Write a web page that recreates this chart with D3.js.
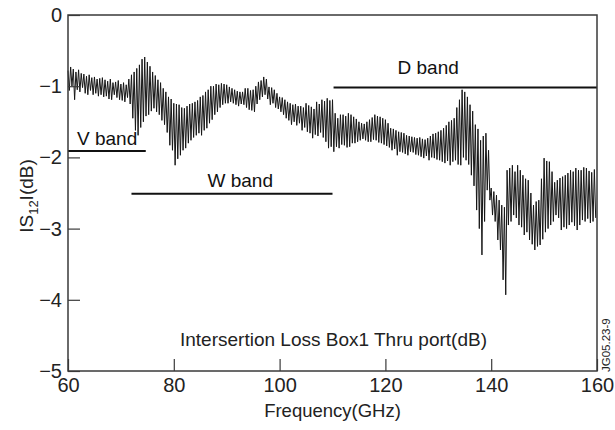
<!DOCTYPE html>
<html>
<head>
<meta charset="utf-8">
<script src="https://cdn.jsdelivr.net/npm/d3@7"></script>
<style>
  body { margin: 0; background: #fff; }
  svg { display: block; font-family: "Liberation Sans", Arial, Helvetica, sans-serif; }
</style>
</head>
<body>
<div id="chart"></div>
<script>
// |S12| insertion loss trace (4 samples per GHz)
const freqStart = 60;
const freqStep = 0.25;
const lossDb = [
  -0.78, -1.06, -0.73, -1.00,   // 60
  -0.76, -1.19, -0.80, -1.05,
  -0.77, -1.08, -0.82, -1.02,
  -0.83, -1.10, -0.86, -1.12,
  -0.84, -1.06, -0.88, -1.12,
  -0.87, -1.10, -0.90, -1.14,   // 65
  -0.89, -1.12, -0.88, -1.15,
  -0.91, -1.14, -0.93, -1.18,
  -0.90, -1.19, -0.95, -1.12,
  -0.94, -1.16, -0.92, -1.19,
  -0.97, -1.20, -0.95, -1.22,   // 70
  -0.98, -1.16, -0.90, -1.25,
  -0.84, -1.45, -0.80, -1.62,
  -0.75, -1.69, -0.70, -1.58,
  -0.62, -1.50, -0.59, -1.42,
  -0.66, -1.40, -0.72, -1.35,   // 75
  -0.80, -1.31, -0.85, -1.36,
  -0.91, -1.40, -0.95, -1.48,
  -1.03, -1.54, -1.08, -1.65,
  -1.15, -1.83, -1.18, -1.90,
  -1.24, -2.11, -1.25, -2.02,   // 80
  -1.26, -1.97, -1.30, -1.90,
  -1.31, -1.87, -1.28, -1.80,
  -1.25, -1.76, -1.24, -1.72,
  -1.22, -1.69, -1.20, -1.66,
  -1.15, -1.69, -1.13, -1.62,   // 85
  -1.08, -1.59, -1.05, -1.52,
  -1.00, -1.47, -1.00, -1.40,
  -0.97, -1.36, -0.98, -1.30,
  -0.96, -1.26, -0.97, -1.24,
  -0.98, -1.24, -1.01, -1.22,   // 90
  -1.03, -1.24, -1.05, -1.26,
  -1.07, -1.28, -1.08, -1.25,
  -1.08, -1.26, -1.03, -1.30,
  -1.03, -1.33, -1.06, -1.34,
  -1.05, -1.36, -1.00, -1.25,   // 95
  -0.94, -1.19, -0.92, -1.15,
  -0.87, -1.12, -0.90, -1.18,
  -1.01, -1.26, -1.02, -1.24,
  -1.05, -1.30, -1.10, -1.32,
  -1.15, -1.36, -1.16, -1.40,   // 100
  -1.19, -1.45, -1.22, -1.48,
  -1.24, -1.54, -1.26, -1.50,
  -1.25, -1.55, -1.28, -1.52,
  -1.28, -1.62, -1.30, -1.58,
  -1.24, -1.64, -1.27, -1.66,   // 105
  -1.29, -1.73, -1.32, -1.68,
  -1.22, -1.70, -1.25, -1.65,
  -1.19, -1.72, -1.21, -1.78,
  -1.17, -1.87, -1.20, -1.85,
  -1.19, -1.92, -1.38, -1.85,   // 110
  -1.45, -1.87, -1.40, -1.82,
  -1.40, -1.83, -1.42, -1.86,
  -1.38, -1.85, -1.40, -1.80,
  -1.43, -1.80, -1.46, -1.78,
  -1.50, -1.76, -1.52, -1.74,   // 115
  -1.53, -1.76, -1.50, -1.78,
  -1.47, -1.78, -1.44, -1.75,
  -1.40, -1.76, -1.42, -1.79,
  -1.43, -1.80, -1.45, -1.82,
  -1.47, -1.84, -1.52, -1.86,   // 120
  -1.59, -1.90, -1.60, -1.88,
  -1.62, -1.97, -1.64, -1.92,
  -1.65, -1.93, -1.66, -1.95,
  -1.69, -1.97, -1.70, -1.92,
  -1.71, -1.93, -1.72, -1.96,   // 125
  -1.73, -1.97, -1.72, -1.99,
  -1.74, -2.01, -1.75, -1.98,
  -1.73, -2.04, -1.70, -2.00,
  -1.67, -2.01, -1.66, -2.03,
  -1.64, -2.04, -1.62, -2.06,   // 130
  -1.59, -2.08, -1.55, -2.05,
  -1.50, -2.11, -1.48, -2.06,
  -1.45, -2.04, -1.30, -2.10,
  -1.19, -2.11, -1.05, -2.00,
  -1.08, -2.04, -1.15, -2.10,   // 135
  -1.26, -2.25, -1.35, -2.40,
  -1.54, -2.74, -1.60, -3.00,
  -1.76, -3.37, -1.70, -2.90,
  -1.66, -2.46, -1.90, -2.60,
  -2.43, -2.81, -2.48, -2.90,   // 140
  -2.53, -3.16, -2.60, -3.30,
  -2.67, -3.72, -2.70, -3.93,
  -2.18, -2.95, -2.15, -2.90,
  -2.11, -2.81, -2.20, -2.85,
  -2.11, -2.95, -2.18, -2.98,   // 145
  -2.25, -3.09, -2.30, -3.05,
  -2.32, -3.16, -2.50, -3.22,
  -2.67, -3.30, -2.62, -3.25,
  -2.60, -3.23, -2.30, -3.15,
  -2.01, -3.05, -2.05, -3.00,   // 150
  -2.06, -2.95, -2.20, -2.90,
  -2.35, -2.81, -2.32, -2.85,
  -2.29, -3.02, -2.27, -2.98,
  -2.25, -3.00, -2.22, -2.95,
  -2.18, -2.91, -2.20, -2.96,   // 155
  -2.15, -3.02, -2.18, -2.95,
  -2.18, -2.88, -2.14, -2.90,
  -2.15, -2.86, -2.19, -2.92,
  -2.21, -2.90, -2.17, -2.85
];

// waveguide bands drawn as horizontal bars
const bandNames = ["V band", "W band", "D band"];
const bandFrom = [60, 72.0, 110.2];
const bandTo = [74.7, 110.0, 160];
const bandLevel = [-1.91, -2.51, -1.02];

const xTicks = [60, 80, 100, 120, 140, 160];
const yTicks = [0, -1, -2, -3, -4, -5];

const width = 615, height = 430;
const margin = {left: 68, right: 18, top: 15, bottom: 59};

const svg = d3.select("#chart").append("svg")
  .attr("width", width)
  .attr("height", height);

const x = d3.scaleLinear().domain([60, 160]).range([margin.left, width - margin.right]);
const y = d3.scaleLinear().domain([-5, 0]).range([height - margin.bottom, margin.top]);

const frameColor = "#3a3a3a";

// data line
const line = d3.line()
  .x(function(d, i) { return x(freqStart + i * freqStep); })
  .y(function(d) { return y(d); });

svg.append("path")
  .datum(lossDb)
  .attr("fill", "none")
  .attr("stroke", "#161616")
  .attr("stroke-width", 1)
  .attr("d", line);

// band bars + labels
const labelDx = [9, 76, 64];   // label start, px from bar start
const labelDy = [-6, -7, -14];
bandNames.forEach(function(name, i) {
  svg.append("line")
    .attr("x1", x(bandFrom[i])).attr("x2", x(bandTo[i]))
    .attr("y1", y(bandLevel[i])).attr("y2", y(bandLevel[i]))
    .attr("stroke", "#111")
    .attr("stroke-width", 2);
  svg.append("text")
    .attr("x", x(bandFrom[i]) + labelDx[i])
    .attr("y", y(bandLevel[i]) + labelDy[i])
    .attr("font-size", 19)
    .attr("fill", "#111")
    .text(name);
});

// axes, ticks pointing inward
const xAxis = d3.axisBottom(x).tickValues(xTicks).tickSizeInner(-12).tickSizeOuter(0).tickPadding(7)
  .tickFormat(d3.format("d"));
const yAxis = d3.axisLeft(y).tickValues(yTicks).tickSizeInner(-12).tickSizeOuter(0).tickPadding(6)
  .tickFormat(function(d) { return d < 0 ? "\u2212" + Math.abs(d) : d; });

const gx = svg.append("g")
  .attr("transform", "translate(0," + (height - margin.bottom) + ")")
  .call(xAxis);
const gy = svg.append("g")
  .attr("transform", "translate(" + margin.left + ",0)")
  .call(yAxis);

[gx, gy].forEach(function(g) {
  g.select(".domain").remove();
  g.selectAll(".tick line").attr("stroke", frameColor).attr("stroke-width", 1.2);
  g.selectAll(".tick text")
    .attr("fill", "#222")
    .attr("font-size", 20)
    .attr("font-family", "Liberation Sans, Arial, sans-serif");
});

// frame box
svg.append("rect")
  .attr("x", x(60)).attr("y", y(0))
  .attr("width", x(160) - x(60))
  .attr("height", y(-5) - y(0))
  .attr("fill", "none")
  .attr("stroke", frameColor)
  .attr("stroke-width", 1.5);

// axis titles
svg.append("text")
  .attr("x", (x(60) + x(160)) / 2)
  .attr("y", 417)
  .attr("text-anchor", "middle")
  .attr("font-size", 18.5)
  .attr("fill", "#222")
  .text("Frequency(GHz)");

const yTitle = svg.append("text")
  .attr("transform", "translate(33,196) rotate(-90)")
  .attr("text-anchor", "middle")
  .attr("font-size", 19)
  .attr("fill", "#222");
yTitle.append("tspan").text("IS");
yTitle.append("tspan").attr("font-size", 13).attr("dy", 5).text("12");
yTitle.append("tspan").attr("dy", -5).text("I(dB)");

// caption inside plot
svg.append("text")
  .attr("x", 180)
  .attr("y", 346)
  .attr("font-size", 19)
  .attr("fill", "#222")
  .text("Intersertion Loss Box1 Thru port(dB)");

// figure id
svg.append("text")
  .attr("transform", "translate(610,372) rotate(-90)")
  .attr("font-size", 11.5)
  .attr("fill", "#222")
  .text("JG05.23-9");
</script>
</body>
</html>
